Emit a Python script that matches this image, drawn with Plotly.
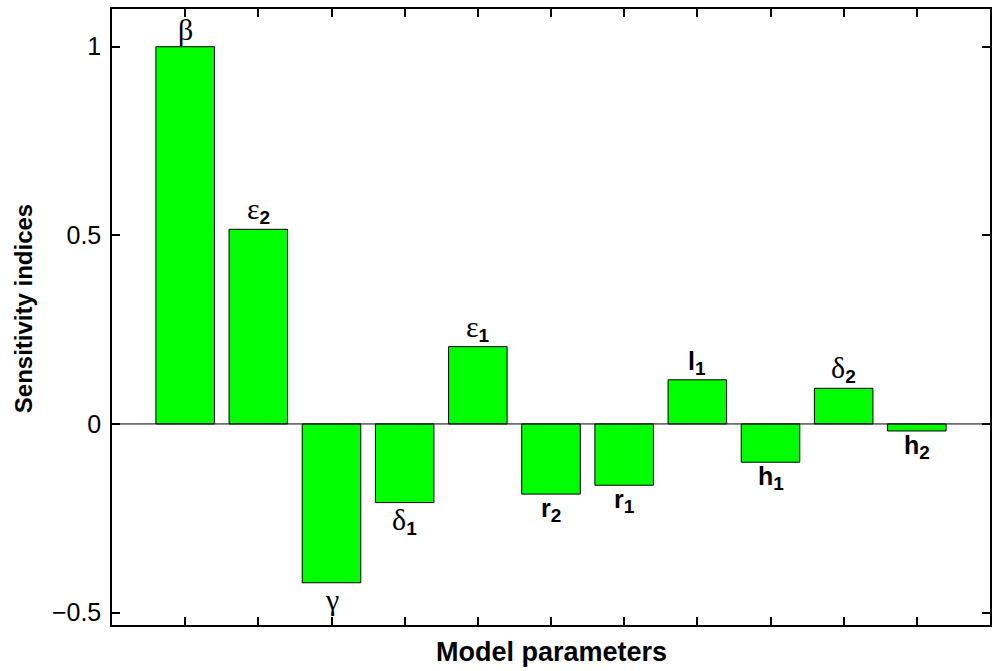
import plotly.graph_objects as go

params = ["β", "ε2", "γ", "δ1", "ε1", "r2", "r1", "l1", "h1", "δ2", "h2"]
label_main = ["β", "ε", "γ", "δ", "ε", "r", "r", "l", "h", "δ", "h"]
label_sub = ["", "2", "", "1", "1", "2", "1", "1", "1", "2", "2"]
greek = [True, True, True, True, True, False, False, False, False, True, False]
values = [1.0, 0.516, -0.421, -0.2085, 0.205, -0.186, -0.1625, 0.117, -0.1015, 0.0945, -0.0186]
positions = list(range(1, len(values) + 1))
y_ticks = [-0.5, 0, 0.5, 1]
y_tick_text = ["−0.5", "0", "0.5", "1"]

W, H = 995, 671
ML, MR, MT, MB = 112, 3, 9, 46
PW, PH = W - ML - MR, H - MT - MB

fig = go.Figure()
fig.add_trace(go.Bar(
    x=positions, y=values, width=0.8,
    marker=dict(color="#00FF00", line=dict(color="#000000", width=1)),
    showlegend=False, hoverinfo="skip",
))

# zero line
fig.add_shape(type="line", xref="x", yref="y", x0=0, x1=12, y0=0, y1=0,
              line=dict(color="black", width=1), layer="above")

for x, v, m, s, g in zip(positions, values, label_main, label_sub, greek):
    if g:
        main = f"<span style=\"font-family:'Liberation Serif',serif;font-size:30px\">{m}</span>"
    else:
        main = f'<b>{m}</b>'
    sub = (f'<sub><span style="font-size:19px"><b>{s}</b></span></sub>' if s else "")
    fig.add_annotation(
        x=x, y=v, xref="x", yref="y", text=main + sub, showarrow=False,
        yanchor="bottom" if v > 0 else "top",
        yshift=-1 if v > 0 else 2,
        font=dict(family="Liberation Sans", size=25, color="black"),
    )

# axis titles
fig.add_annotation(
    x=(23 - ML) / PW, y=(MT + PH - 309) / PH, xref="paper", yref="paper",
    text="<b>Sensitivity indices</b>", textangle=-90, showarrow=False,
    xanchor="center", yanchor="middle",
    font=dict(family="Liberation Sans", size=24, color="black"),
)
fig.add_annotation(
    x=0.5, y=(MT + PH - 652) / PH, xref="paper", yref="paper",
    text="<b>Model parameters</b>", showarrow=False,
    xanchor="center", yanchor="middle",
    font=dict(family="Liberation Sans", size=27, color="black"),
)

fig.update_layout(
    width=W, height=H,
    margin=dict(l=ML, r=MR, t=MT, b=MB),
    paper_bgcolor="white", plot_bgcolor="white",
    font=dict(family="Liberation Sans", color="black"),
    xaxis=dict(
        range=[0, 12], tickvals=positions, ticktext=[""] * len(positions),
        ticks="inside", ticklen=8, tickwidth=1.5, tickcolor="black",
        showline=True, linecolor="black", linewidth=1.5, mirror="ticks",
        showgrid=False, zeroline=False,
    ),
    yaxis=dict(
        range=[-0.533, 1.1], tickvals=y_ticks, ticktext=y_tick_text,
        ticks="inside", ticklen=8, tickwidth=1.5, tickcolor="black",
        showline=True, linecolor="black", linewidth=1.5, mirror="ticks",
        showgrid=False, zeroline=False,
        tickfont=dict(size=25, family="Liberation Sans", color="black"),
        ticklabelstandoff=4,
    ),
)

fig.write_html("out.html")
